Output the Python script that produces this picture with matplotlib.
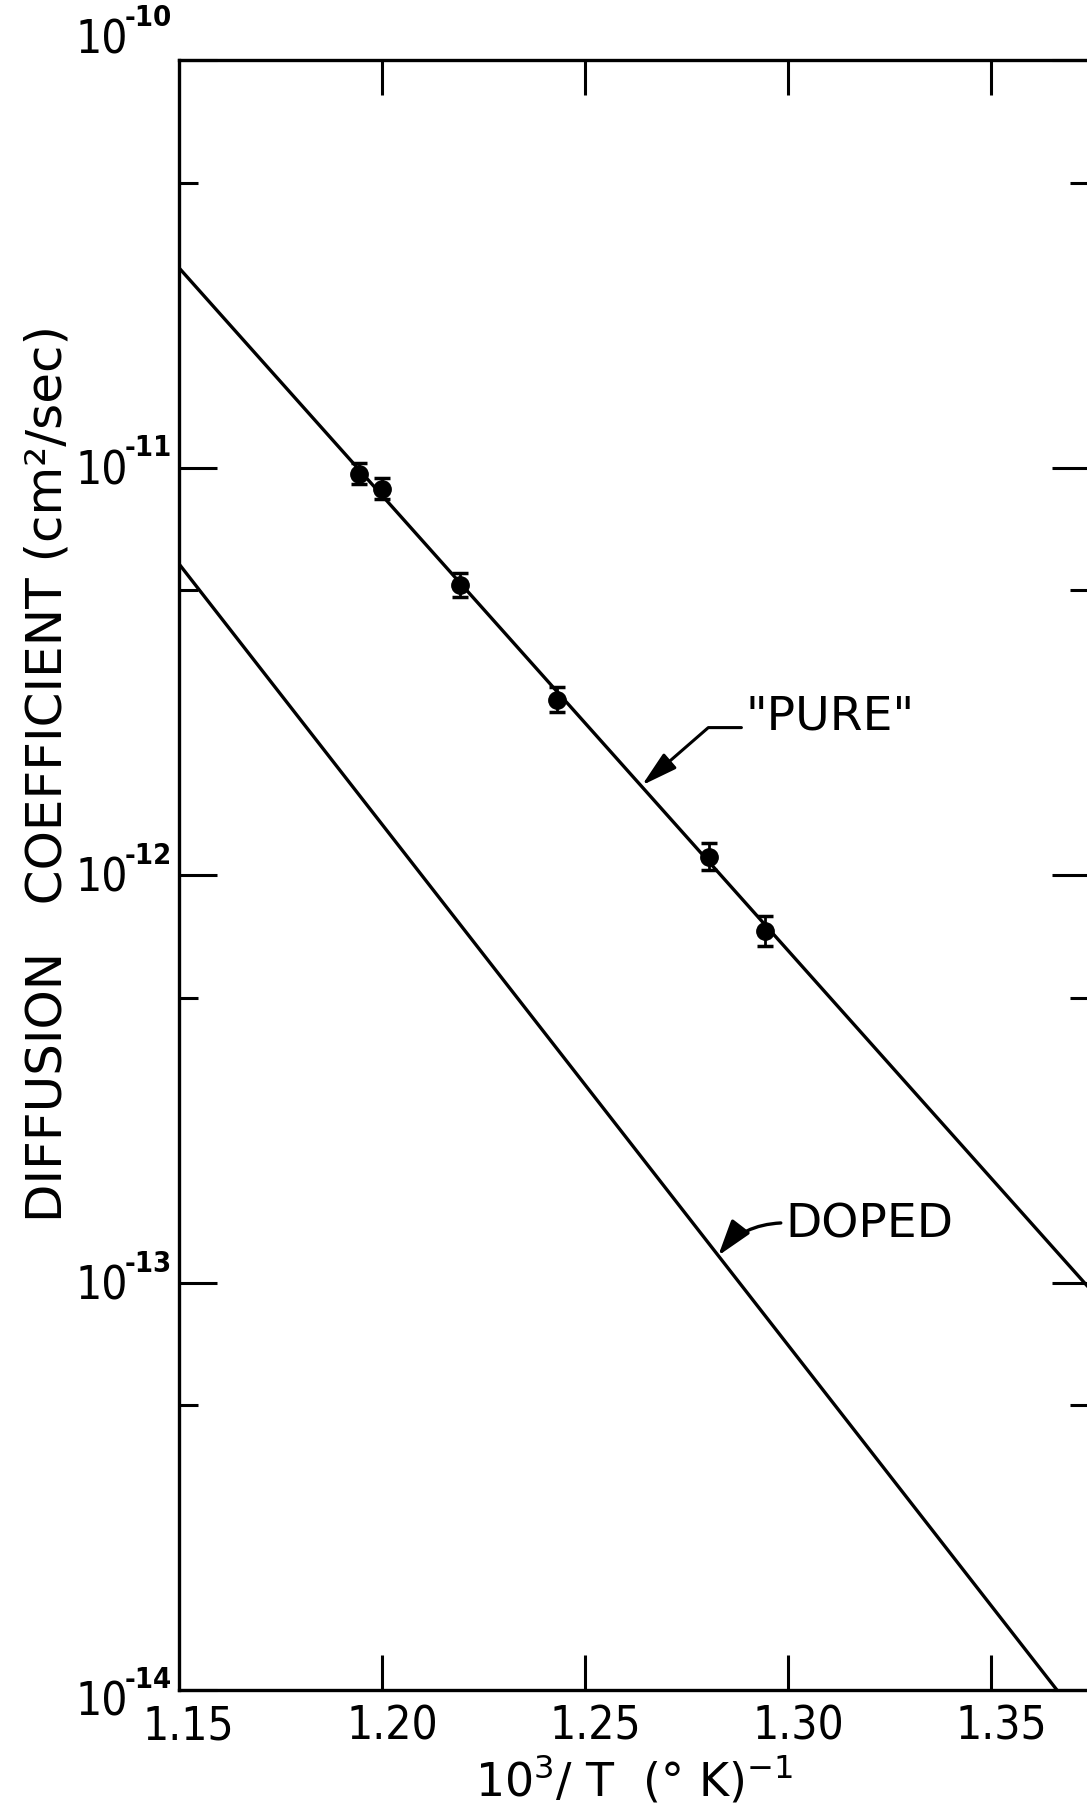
import matplotlib
matplotlib.use("Agg")
import matplotlib.pyplot as plt
from matplotlib import transforms

# measured diffusion coefficients ("pure" crystal)
INV_T = [1.1943, 1.2000, 1.2192, 1.2431, 1.2806, 1.2943]
D_MEAS = [9.64e-12, 8.85e-12, 5.15e-12, 2.69e-12, 1.11e-12, 7.3e-13]
D_ERR_LO = [0.55e-12, 0.50e-12, 0.33e-12, 0.18e-12, 0.080e-12, 0.060e-12]
D_ERR_HI = [0.60e-12, 0.55e-12, 0.36e-12, 0.20e-12, 0.085e-12, 0.065e-12]

# fitted lines (end points)
PURE_X = [1.15, 1.3741]
PURE_D = [3.09e-11, 9.7e-14]
DOPED_X = [1.15, 1.3662]
DOPED_D = [5.8e-12, 1.0e-14]

X_TICKS = [1.15, 1.20, 1.25, 1.30, 1.35]
X_TICKLABELS = ["1.15", "1.20", "1.25", "1.30", "1.35"]
Y_DECADES = [1e-14, 1e-13, 1e-12, 1e-11, 1e-10]
Y_EXPONENTS = ["-14", "-13", "-12", "-11", "-10"]
Y_MINOR = [5e-14, 5e-13, 5e-12, 5e-11]

plt.rcParams.update({
    "font.family": "DejaVu Sans",
    "mathtext.fontset": "dejavusans",
})

W, H = 1087, 1811
fig = plt.figure(figsize=(W / 100, H / 100), dpi=100)
# right spine sits just past the cropped edge of the original scan
ax = fig.add_axes([179 / W, 121 / H, 910 / W, 1630 / H])

ax.set_yscale("log")
ax.set_xlim(1.15, 1.3741)
ax.set_ylim(1e-14, 1e-10)

# lines and points
ax.plot(PURE_X, PURE_D, color="black", lw=2.4, solid_capstyle="butt")
ax.plot(DOPED_X, DOPED_D, color="black", lw=2.4, solid_capstyle="butt")
ax.errorbar(INV_T, D_MEAS, yerr=[D_ERR_LO, D_ERR_HI], fmt="o", color="black",
            ms=12.5, elinewidth=2, capsize=5.5, capthick=2.5, zorder=3)

# axes frame + ticks
for sp in ax.spines.values():
    sp.set_linewidth(2.4)
ax.set_xticks(X_TICKS[1:])
ax.set_yticks(Y_DECADES)
ax.set_yticks(Y_MINOR, minor=True)
ax.xaxis.set_minor_locator(matplotlib.ticker.NullLocator())
ax.tick_params(which="both", direction="in", top=True, right=True,
               labelbottom=False, labelleft=False, width=2.2, color="black")
ax.tick_params(axis="x", which="major", length=25)
ax.tick_params(axis="y", which="major", length=27)
ax.tick_params(axis="y", which="minor", length=14)


def px_off(dx, dy):
    return transforms.ScaledTranslation(dx / 100, dy / 100, fig.dpi_scale_trans)


# tick labels drawn by hand so the lettering sits like the original
xlab_tr = transforms.blended_transform_factory(ax.transData, ax.transAxes)
for xv, lab in zip(X_TICKS, X_TICKLABELS):
    ax.text(xv, 0, lab, transform=xlab_tr + px_off(-36, -15),
            ha="left", va="top", fontsize=33, fontstretch="condensed", clip_on=False)

ylab_tr = transforms.blended_transform_factory(ax.transAxes, ax.transData)
y_shift = [-26, -17, -17, -17, 6]
sups = []
for yv, ex, dy in zip(Y_DECADES, Y_EXPONENTS, y_shift):
    s = ax.text(0, yv, ex, transform=ylab_tr + px_off(-7, dy + 28),
                ha="right", va="baseline", fontsize=21, fontweight="bold",
                fontstretch="condensed", clip_on=False)
    sups.append(s)
fig.canvas.draw()
renderer = fig.canvas.get_renderer()
for yv, s, dy in zip(Y_DECADES, sups, y_shift):
    w = s.get_window_extent(renderer).width
    ax.text(0, yv, "10", transform=ylab_tr + px_off(-7 - w + 3, dy),
            ha="right", va="baseline", fontsize=33, fontstretch="condensed", clip_on=False)

# axis titles
fig.text(48 / W, 1 - 774 / H, "DIFFUSION   COEFFICIENT (cm²/sec)", rotation=90,
         ha="center", va="center", fontsize=36)
fig.text(634 / W, 1 - 1779 / H, r"$10^3$/ T  (° K)$^{-1}$", ha="center", va="center", fontsize=33)

# callouts
ax.text(1.2894, 2.44e-12, '"PURE"', ha="left", va="center", fontsize=34)
ax.annotate("", xy=(1.2640, 1.66e-12), xytext=(1.2885, 2.30e-12),
            arrowprops=dict(arrowstyle="-|>,head_length=1.1,head_width=0.3", color="black", lw=2.2,
                            connectionstyle="angle,angleA=0,angleB=41,rad=0",
                            shrinkA=0, shrinkB=0, mutation_scale=20))

ax.text(1.2993, 1.38e-13, "DOPED", ha="left", va="center", fontsize=34)
ax.annotate("", xy=(1.2828, 1.164e-13), xytext=(1.2982, 1.40e-13),
            arrowprops=dict(arrowstyle="-|>,head_length=1.1,head_width=0.35", color="black", lw=2.4,
                            connectionstyle="arc3,rad=0.23",
                            shrinkA=0, shrinkB=0, mutation_scale=20))

fig.savefig("out.png", dpi=100)
